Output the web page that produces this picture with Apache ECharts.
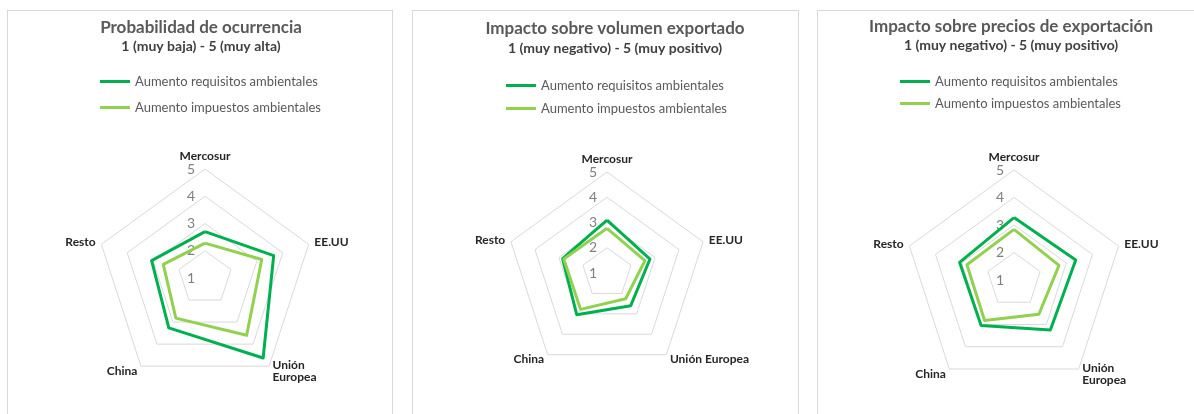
<!DOCTYPE html>
<html>
<head>
<meta charset="utf-8">
<script src="https://cdn.jsdelivr.net/npm/echarts@6/dist/echarts.min.js"></script>
<style>
body{margin:0;background:#fff;}
.panel{position:absolute;top:10px;height:420px;border:1px solid #d9d9d9;box-sizing:border-box;}
</style>
</head>
<body>
<div id="p1" class="panel" style="left:7px;width:386px"></div>
<div id="p2" class="panel" style="left:412px;width:387px"></div>
<div id="p3" class="panel" style="left:817px;width:390px"></div>
<script>
// regiones en orden horario desde arriba
var regions = ['Mercosur', 'EE.UU', 'Unión Europea', 'China', 'Resto'];
var scaleMin = 1, scaleMax = 5;
var seriesNames = ['Aumento requisitos ambientales', 'Aumento impuestos ambientales'];

var titles = ['Probabilidad de ocurrencia', 'Impacto sobre volumen exportado', 'Impacto sobre precios de exportación'];
var subtitles = ['1 (muy baja) - 5 (muy alta)', '1 (muy negativo) - 5 (muy positivo)', '1 (muy negativo) - 5 (muy positivo)'];

var probReq = [2.7, 3.65, 4.63, 3.26, 3.06];
var probImp = [2.28, 3.19, 3.6, 2.82, 2.61];
var volReq = [3.09, 2.79, 2.6, 3.04, 2.85];
var volImp = [2.77, 2.58, 2.26, 2.78, 2.8];
var precReq = [3.27, 3.36, 3.25, 3.04, 3.08];
var precImp = [2.84, 2.72, 2.54, 2.82, 2.8];

var colorReq = '#00b050';
var colorImp = '#92d050';

// echarts coloca los indicadores en sentido antihorario
var order = [0, 4, 3, 2, 1];

function drawPanel(id, t, req, imp, lay) {
	var chart = echarts.init(document.getElementById(id));
	var indicator = order.map(function (i, k) {
		var ind = { name: regions[i], min: scaleMin, max: scaleMax };
		if (k === 0) ind.axisLabel = { show: true };
		return ind;
	});
	var option = {
		animation: false,
		title: {
			text: titles[t],
			subtext: subtitles[t],
			left: lay.tx,
			top: lay.ty,
			textAlign: 'center',
			padding: 0,
			itemGap: lay.tgap,
			textStyle: { fontFamily: 'Lato', fontSize: 17, fontWeight: 'bold', color: '#595959' },
			subtextStyle: { fontFamily: 'Lato', fontSize: 14, fontWeight: 'bold', color: '#404040' }
		},
		legend: {
			orient: 'vertical',
			left: lay.lx,
			top: lay.ly,
			itemGap: lay.lgap,
			itemWidth: 30,
			itemHeight: 3,
			icon: 'rect',
			padding: 0,
			data: seriesNames,
			textStyle: { fontFamily: 'Lato', fontSize: 13, color: '#595959' }
		},
		radar: {
			center: [lay.cx, lay.cy],
			radius: lay.r,
			startAngle: 90,
			splitNumber: 4,
			shape: 'polygon',
			nameGap: 6,
			indicator: indicator,
			axisName: {
				color: '#262626',
				fontFamily: 'Lato',
				fontSize: 12,
				fontWeight: 'bold',
				formatter: function (v) {
					return lay.breakUE && v === 'Unión Europea' ? 'Unión\nEuropea' : v;
				}
			},
			axisLine: { show: false },
			axisTick: { show: false },
			axisLabel: { show: false, color: '#7f7f7f', fontSize: 14, fontFamily: 'Lato', margin: 10 },
			splitLine: { lineStyle: { color: '#d9d9d9', width: 1 } },
			splitArea: { show: false }
		},
		series: [{
			type: 'radar',
			symbol: 'none',
			data: [
				{ name: seriesNames[0], value: order.map(function (i) { return req[i]; }),
				  lineStyle: { color: colorReq, width: 3 }, itemStyle: { color: colorReq } },
				{ name: seriesNames[1], value: order.map(function (i) { return imp[i]; }),
				  lineStyle: { color: colorImp, width: 3 }, itemStyle: { color: colorImp } }
			]
		}]
	};
	chart.setOption(option);
}

drawPanel('p1', 0, probReq, probImp, { tx: 193, ty: 8, tgap: 3, lx: 92, ly: 64, lgap: 13, cx: 197, cy: 267, r: 109, breakUE: true });
drawPanel('p2', 1, volReq, volImp, { tx: 202, ty: 9, tgap: 4, lx: 93, ly: 68, lgap: 10, cx: 194, cy: 262, r: 101, breakUE: false });
drawPanel('p3', 2, precReq, precImp, { tx: 193, ty: 7, tgap: 3, lx: 82, ly: 64, lgap: 9, cx: 196, cy: 269, r: 110, breakUE: true });
</script>
</body>
</html>
